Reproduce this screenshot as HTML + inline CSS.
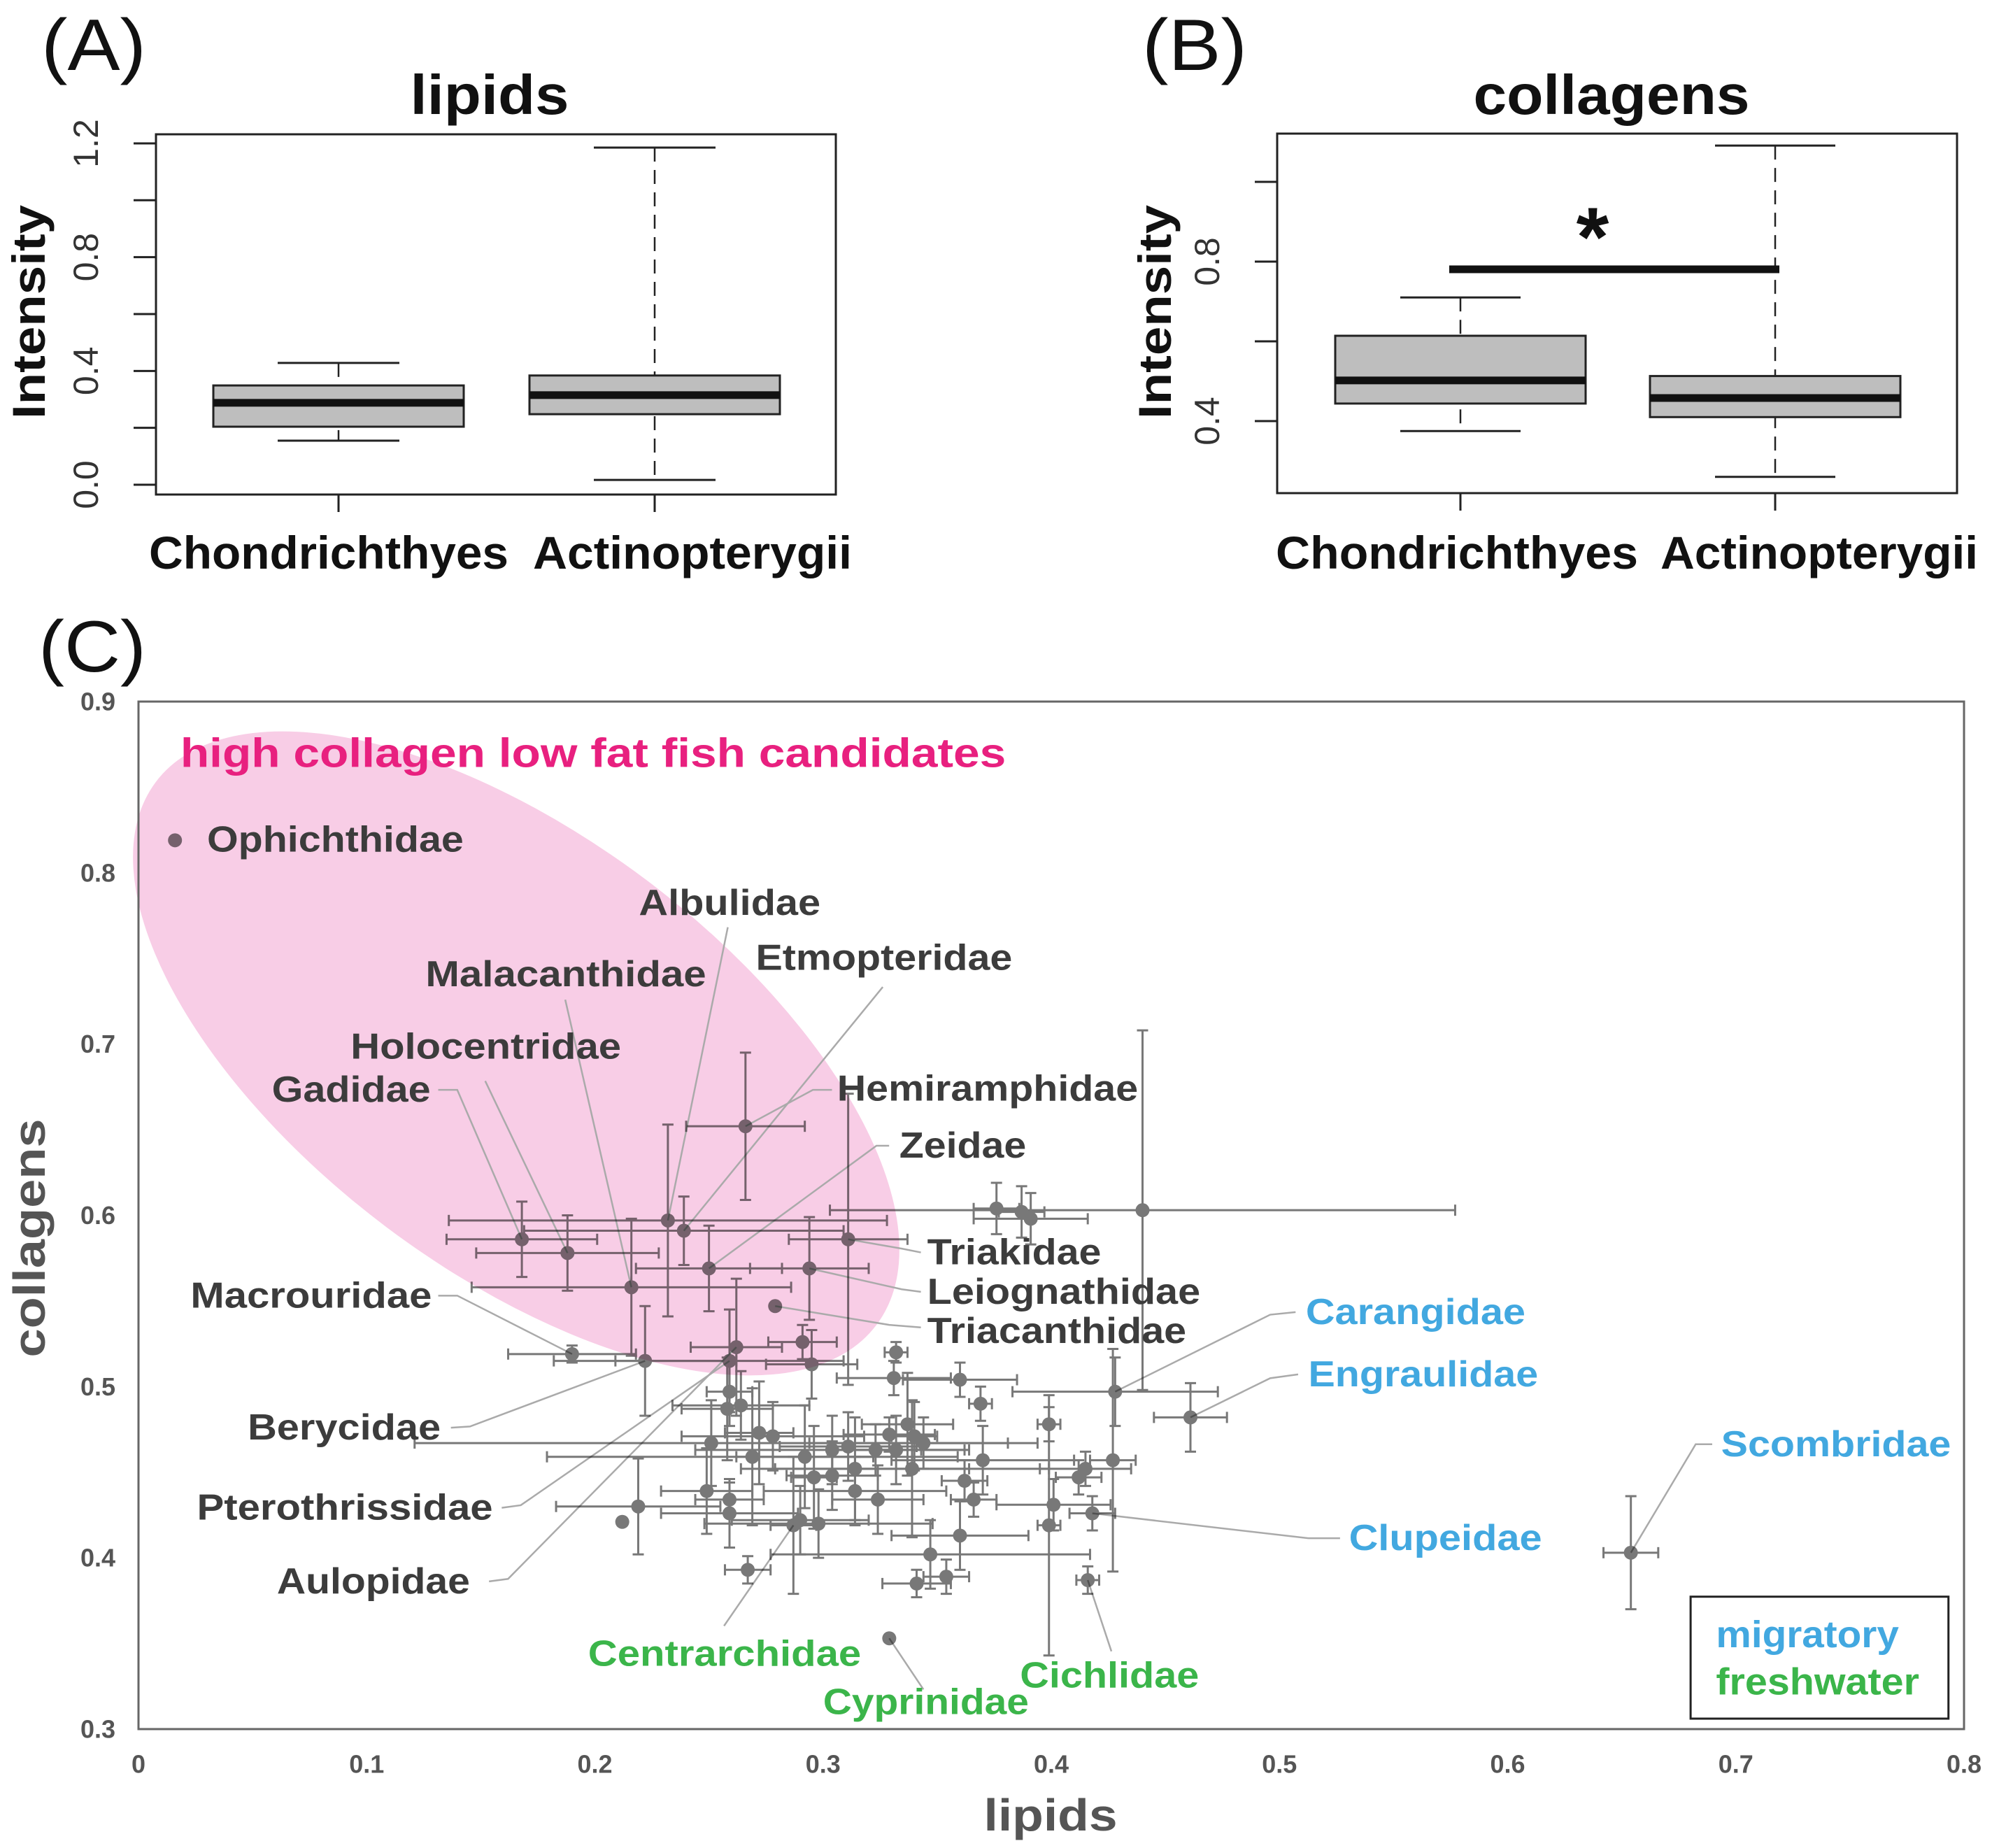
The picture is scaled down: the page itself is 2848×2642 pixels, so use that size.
<!DOCTYPE html>
<html><head><meta charset="utf-8"><style>
html,body{margin:0;padding:0;background:#fff;}
svg{display:block;font-family:"Liberation Sans",Arial,sans-serif;}
</style></head><body>
<svg id="fig" width="2848" height="2642" viewBox="0 0 2848 2642" xmlns="http://www.w3.org/2000/svg"></svg>
<script>
// ---------- Panel A/B box data ----------
const boxCategories = ["Chondrichthyes", "Actinopterygii"];
const lipidsLow = [0.155, 0.017];
const lipidsQ1 = [0.204, 0.248];
const lipidsMedian = [0.288, 0.315];
const lipidsQ3 = [0.349, 0.384];
const lipidsHigh = [0.428, 1.185];
const lipidsTicks = [0, 0.2, 0.4, 0.6, 0.8, 1.0, 1.2];
const lipidsTickLabels = ["0.0", "", "0.4", "", "0.8", "", "1.2"];
const collLow = [0.375, 0.260];
const collQ1 = [0.444, 0.410];
const collMedian = [0.502, 0.458];
const collQ3 = [0.614, 0.513];
const collHigh = [0.710, 1.091];
const collTicks = [0.4, 0.6, 0.8, 1.0];
const collTickLabels = ["0.4", "", "0.8", ""];
// ---------- Panel C scatter data ----------
const lipids = [0.016,0.168,0.188,0.216,0.232,0.239,0.250,0.266,0.294,0.311,0.279,0.190,0.222,0.262,0.291,0.295,0.259,0.332,0.331,0.360,0.376,0.387,0.391,0.440,0.369,0.428,0.461,0.399,0.427,0.415,0.412,0.401,0.418,0.399,0.416,0.654,0.370,0.362,0.366,0.360,0.347,0.354,0.341,0.329,0.267,0.259,0.259,0.249,0.219,0.212,0.251,0.258,0.259,0.264,0.272,0.278,0.269,0.290,0.287,0.298,0.292,0.296,0.304,0.311,0.314,0.323,0.324,0.332,0.337,0.340,0.344,0.339,0.314,0.329,0.304];
const collagens = [0.819,0.586,0.578,0.558,0.597,0.591,0.569,0.652,0.569,0.586,0.547,0.519,0.515,0.523,0.526,0.513,0.515,0.520,0.505,0.504,0.604,0.602,0.598,0.603,0.490,0.497,0.482,0.478,0.457,0.452,0.447,0.431,0.426,0.419,0.387,0.403,0.457,0.445,0.434,0.413,0.402,0.389,0.385,0.353,0.393,0.426,0.434,0.439,0.430,0.421,0.467,0.487,0.497,0.489,0.473,0.471,0.459,0.422,0.419,0.420,0.459,0.447,0.463,0.465,0.452,0.463,0.434,0.463,0.478,0.471,0.467,0.452,0.439,0.472,0.448];
const lipidErr = [0,0.033,0.040,0.070,0.096,0.070,0.032,0.026,0.026,0.026,0,0.028,0.040,0.020,0.015,0.020,0.050,0.005,0.025,0.025,0.010,0.010,0.025,0.137,0.005,0.045,0.016,0.005,0.010,0.020,0.010,0.025,0.010,0.005,0.005,0.012,0.040,0.010,0.010,0.030,0.070,0.010,0.015,0,0.010,0.030,0.015,0.020,0.036,0,0.130,0.020,0.010,0.030,0.015,0.040,0.090,0.030,0.010,0.050,0.030,0.010,0.060,0.030,0.050,0.020,0.020,0.030,0.020,0.010,0.050,0.060,0.040,0.020,0.020];
const collagenErr = [0,0.022,0.022,0.040,0.056,0.020,0.025,0.043,0.030,0.085,0,0.005,0.032,0.040,0.010,0.020,0.030,0.006,0.010,0.010,0.015,0.015,0.015,0.105,0.010,0.020,0.020,0.010,0.065,0.010,0.010,0.015,0.010,0.076,0.008,0.033,0.020,0.012,0.010,0.020,0.020,0.010,0.008,0,0.008,0.020,0.010,0.025,0.028,0,0.025,0.030,0.020,0.020,0.030,0.020,0.040,0.020,0.040,0.020,0.030,0.030,0.020,0.020,0.030,0.015,0.020,0.020,0.030,0.020,0.015,0.040,0.020,0.010,0.020];
const xTicksC = [0,0.1,0.2,0.3,0.4,0.5,0.6,0.7,0.8];
const xTickLabelsC = ["0","0.1","0.2","0.3","0.4","0.5","0.6","0.7","0.8"];
const yTicksC = [0.3,0.4,0.5,0.6,0.7,0.8,0.9];
const yTickLabelsC = ["0.3","0.4","0.5","0.6","0.7","0.8","0.9"];

const NS = "http://www.w3.org/2000/svg";
const svg = document.getElementById('fig');
function mk(tag, attrs, parent){const e=document.createElementNS(NS,tag);for(const k in attrs)e.setAttribute(k,attrs[k]);(parent||svg).appendChild(e);return e;}
function txt(s, attrs, parent){const e=mk('text',attrs,parent);e.textContent=s;return e;}

// ---------- Box panels ----------
function boxPanel(cfg){
  const g = mk('g',{});
  
  
  const y = v => cfg.y0 - (v - cfg.v0) * cfg.k;
  const fr = mk('rect',{x:cfg.L,y:cfg.T,width:cfg.R-cfg.L,height:cfg.B-cfg.T,fill:'none',stroke:'#222','stroke-width':3},g);
   
  cfg.ticks.forEach((t,i)=>{
    const l=mk('line',{x1:cfg.L-32,x2:cfg.L,y1:y(t),y2:y(t),stroke:'#222','stroke-width':3},g);
     
    if(cfg.tickLabels[i]){
      const tx=cfg.L-100, ty=y(t);
      const e=txt(cfg.tickLabels[i],{x:tx,y:ty,'font-size':50,fill:'#333','text-anchor':'middle','dominant-baseline':'central',transform:`rotate(-90 ${tx} ${ty})`},g);
       
    }
  });
  boxCategories.forEach((c,i)=>{
    const cx=cfg.cx[i], hw=cfg.hw, cw=cfg.cw;
    const wl=mk('line',{x1:cx,x2:cx,y1:y(cfg.high[i]),y2:y(cfg.low[i]),stroke:'#222','stroke-width':2.5,'stroke-dasharray':'20 12'},g);
     
    [cfg.high[i],cfg.low[i]].forEach(v=>{
      const cap=mk('line',{x1:cx-cw,x2:cx+cw,y1:y(v),y2:y(v),stroke:'#222','stroke-width':3},g);
       
    });
    const b=mk('rect',{x:cx-hw,y:y(cfg.q3[i]),width:2*hw,height:y(cfg.q1[i])-y(cfg.q3[i]),fill:'#bebebe',stroke:'#222','stroke-width':3},g);
     
    const m=mk('line',{x1:cx-hw,x2:cx+hw,y1:y(cfg.med[i]),y2:y(cfg.med[i]),stroke:'#111','stroke-width':11},g);
     
    const xt=mk('line',{x1:cx,x2:cx,y1:cfg.B,y2:cfg.B+25,stroke:'#222','stroke-width':3},g);
     
    const lab=txt(c,{x:cfg.labX[i],y:790,'font-size':66,'font-weight':'bold',fill:'#111','text-anchor':'middle','dominant-baseline':'central',textLength:cfg.labW[i],lengthAdjust:'spacingAndGlyphs'},g);
     
  });
  const t=txt(cfg.title,{x:cfg.titleX,y:163,'font-size':80,'font-weight':'bold',fill:'#111','text-anchor':'middle',textLength:cfg.titleW,lengthAdjust:'spacingAndGlyphs'},g);
   
  const yl=txt('Intensity',{x:cfg.ylX,y:446,'font-size':66,'font-weight':'bold',fill:'#111','text-anchor':'middle','dominant-baseline':'central',transform:`rotate(-90 ${cfg.ylX} 446)`,textLength:306,lengthAdjust:'spacingAndGlyphs'},g);
   
  const pl=txt(cfg.panel,{x:cfg.panelX,y:100,'font-size':104,fill:'#111',textLength:150,lengthAdjust:'spacingAndGlyphs'},g);
   
  return {g,y};
}
boxPanel({name:'panel-a-lipids',L:223,R:1195,T:192,B:707,y0:693,v0:0,k:406.7,ticks:lipidsTicks,tickLabels:lipidsTickLabels,
  cx:[484,936],hw:179,cw:87,low:lipidsLow,q1:lipidsQ1,med:lipidsMedian,q3:lipidsQ3,high:lipidsHigh,
  labX:[470,990],labW:[514,456],
  title:'lipids',titleX:700,titleW:227,ylX:41,panel:'(A)',panelX:59});
const pb=boxPanel({name:'panel-b-collagens',L:1826,R:2798,T:191,B:705,y0:602,v0:0.4,k:570,ticks:collTicks,tickLabels:collTickLabels,
  cx:[2088,2538],hw:179,cw:86,low:collLow,q1:collQ1,med:collMedian,q3:collQ3,high:collHigh,
  labX:[2083,2601],labW:[518,454],
  title:'collagens',titleX:2304,titleW:395,ylX:1651,panel:'(B)',panelX:1633});
const sig=mk('line',{x1:2072,x2:2544,y1:385,y2:385,stroke:'#111','stroke-width':11},pb.g);
 
const star=txt('*',{x:2277,y:380,'font-size':120,'font-weight':'bold',fill:'#111','text-anchor':'middle'},pb.g);
 

// ---------- Panel C ----------
const L=198,R=2808,T=1003,B=2472;
const X = v => L + v*(R-L)/0.8;
const Y = v => B - (v-0.3)*(B-T)/0.6;
const S = 1.816;
const gc = mk('g',{});
 
const ell=mk('ellipse',{cx:738,cy:1506,rx:645,ry:310,fill:'#f8cde6',transform:'rotate(37 738 1506)'},gc);
 
const frame=mk('rect',{x:L,y:T,width:R-L,height:B-T,fill:'none',stroke:'#666','stroke-width':3},gc);
 
xTicksC.forEach((t,i)=>{const e=txt(xTickLabelsC[i],{x:X(t),y:2522,'font-size':36,'font-weight':'bold',fill:'#555','text-anchor':'middle','dominant-baseline':'central'},gc);
   });
yTicksC.forEach((t,i)=>{const e=txt(yTickLabelsC[i],{x:165,y:Y(t),'font-size':36,'font-weight':'bold',fill:'#555','text-anchor':'end','dominant-baseline':'central'},gc);
   });
const xt=txt('lipids',{x:1502,y:2595,'font-size':64,'font-weight':'bold',fill:'#555','text-anchor':'middle','dominant-baseline':'central',textLength:191,lengthAdjust:'spacingAndGlyphs'},gc);
 
const yt=txt('collagens',{x:42,y:1770,'font-size':64,'font-weight':'bold',fill:'#555','text-anchor':'middle','dominant-baseline':'central',transform:'rotate(-90 42 1770)',textLength:341,lengthAdjust:'spacingAndGlyphs'},gc);
 
const pc=txt('(C)',{x:55,y:960,'font-size':104,fill:'#111',textLength:154,lengthAdjust:'spacingAndGlyphs'},gc);
 

// leader lines (display coords * S) : [x1,y1,x2,y2,pointIndex]
const leaders=[[345,858,360,858,1],[382,851,382,851,2],[445,787,445,787,3],[573,730,573,730,4],[695,777,695,777,5],
 [655,858,640,858,7],[700,902,690,902,6],[725,986,710,983,9],[725,1017,710,1015,8],[725,1045,700,1043,10],
 [345,1020,360,1020,11],[355,1124,370,1123,12],[395,1187,410,1185,16],[385,1245,400,1243,13],
 [1020,1033,1000,1035,25],[1022,1082,1000,1085,26],[1348,1137,1335,1137,35],[1055,1211,1030,1211,32],
 [570,1280,570,1280,58],[727,1330,727,1330,43],[875,1300,875,1300,34]];
const gl=mk('g',{stroke:'#aaa','stroke-width':2.5,fill:'none'},gc);
 
leaders.forEach(a=>{const p=mk('polyline',{points:`${a[0]*S},${a[1]*S} ${a[2]*S},${a[3]*S} ${X(lipids[a[4]])},${Y(collagens[a[4]])}`},gl);
   });

const gp=mk('g',{style:'mix-blend-mode:multiply'},gc);
 
lipids.forEach((lv,i)=>{
  const cx=X(lv), cy=Y(collagens[i]);
  const g=mk('g',{stroke:'#787878','stroke-width':3,fill:'#787878'},gp);
  
  
  if(lipidErr[i]>0){const x1=X(lv-lipidErr[i]),x2=X(lv+lipidErr[i]);
    mk('line',{x1:x1,x2:x2,y1:cy,y2:cy},g);mk('line',{x1:x1,x2:x1,y1:cy-8,y2:cy+8},g);mk('line',{x1:x2,x2:x2,y1:cy-8,y2:cy+8},g);}
  if(collagenErr[i]>0){const y1=Y(collagens[i]+collagenErr[i]),y2=Y(collagens[i]-collagenErr[i]);
    mk('line',{x1:cx,x2:cx,y1:y1,y2:y2},g);mk('line',{x1:cx-8,x2:cx+8,y1:y1,y2:y1},g);mk('line',{x1:cx-8,x2:cx+8,y1:y2,y2:y2},g);}
  mk('circle',{cx:cx,cy:cy,r:10,stroke:'none'},g);
});

// labels: [text, xstart, xend, ycenter (display), color]
const dark='#3c3c3c', blue='#42a8e0', green='#3bb54a';
const labels=[["Ophichthidae",163,365,661,dark],["Albulidae",503,646,711,dark],["Etmopteridae",595,797,754,dark],
 ["Malacanthidae",335,556,767,dark],["Holocentridae",276,489,824,dark],["Gadidae",214,339,858,dark],
 ["Hemiramphidae",659,896,857,dark],["Zeidae",708,808,902,dark],["Triakidae",730,867,986,dark],
 ["Leiognathidae",730,945,1017,dark],["Triacanthidae",730,934,1048,dark],["Macrouridae",150,340,1020,dark],
 ["Berycidae",195,347,1124,dark],["Pterothrissidae",155,388,1187,dark],["Aulopidae",218,370,1245,dark],
 ["Carangidae",1028,1201,1033,blue],["Engraulidae",1030,1211,1082,blue],["Scombridae",1355,1536,1137,blue],
 ["Clupeidae",1062,1214,1211,blue],["Centrarchidae",463,678,1302,green],["Cyprinidae",648,810,1340,green],
 ["Cichlidae",803,944,1319,green]];
labels.forEach(l=>{const e=txt(l[0],{x:l[1]*S,y:l[3]*S,'font-size':52,'font-weight':'bold',fill:l[4],'dominant-baseline':'central',textLength:(l[2]-l[1])*S,lengthAdjust:'spacingAndGlyphs'},gc);
   });
const hl=txt('high collagen low fat fish candidates',{x:142*S,y:593*S,'font-size':58,'font-weight':'bold',fill:'#e8207f','dominant-baseline':'central',textLength:650*S,lengthAdjust:'spacingAndGlyphs'},gc);
 
const lg=mk('g',{},gc);
 
mk('rect',{x:1331*S,y:1257*S,width:203*S,height:96*S,fill:'#fff',stroke:'#222','stroke-width':3},lg);
const l1=txt('migratory',{x:1351*S,y:1287*S,'font-size':54,'font-weight':'bold',fill:blue,'dominant-baseline':'central',textLength:144*S,lengthAdjust:'spacingAndGlyphs'},lg);
 
const l2=txt('freshwater',{x:1351*S,y:1324*S,'font-size':54,'font-weight':'bold',fill:green,'dominant-baseline':'central',textLength:160*S,lengthAdjust:'spacingAndGlyphs'},lg);
 
</script>
</body></html>
